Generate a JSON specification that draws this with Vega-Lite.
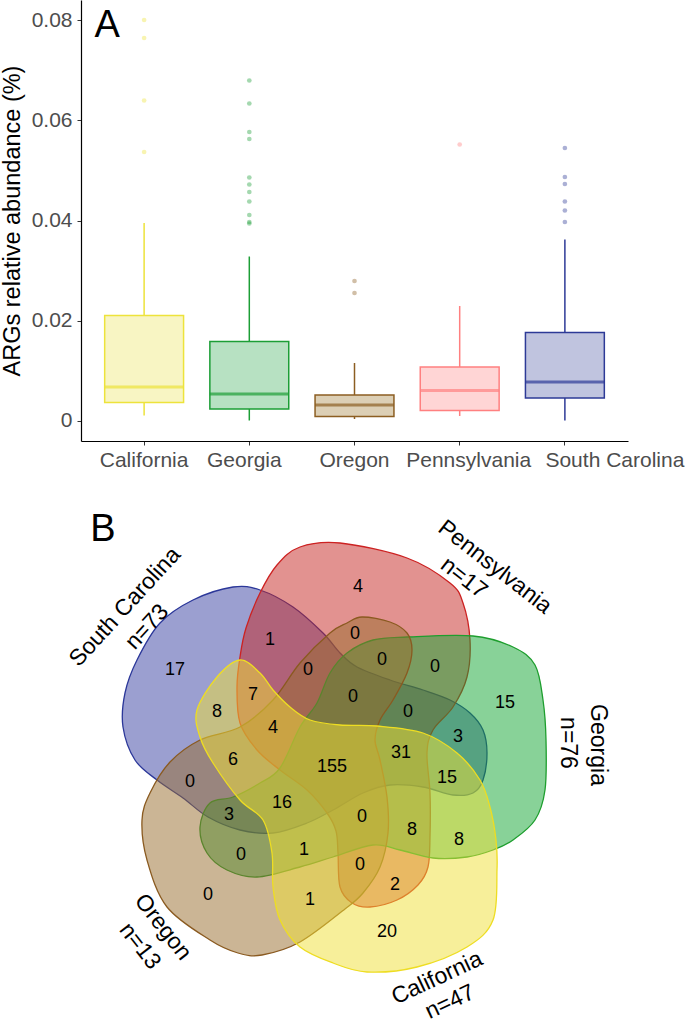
{
  "$schema": "https://vega.github.io/schema/vega-lite/v6.json",
  "padding": {"left": 0, "top": 0, "right": 0, "bottom": 0},
  "spacing": 10,
  "config": {"view": {"stroke": null}, "font": "Liberation Sans"},
  "datasets": {
    "boxes": [
      {"state": "California", "lower": 0.001, "q1": 0.0036, "median": 0.0067, "q3": 0.021, "upper": 0.0395},
      {"state": "Georgia", "lower": 0.0, "q1": 0.0023, "median": 0.0053, "q3": 0.0158, "upper": 0.0328},
      {"state": "Oregon", "lower": 0.0003, "q1": 0.0008, "median": 0.0031, "q3": 0.0051, "upper": 0.0115},
      {"state": "Pennsylvania", "lower": 0.0009, "q1": 0.002, "median": 0.006, "q3": 0.0107, "upper": 0.0229},
      {"state": "South Carolina", "lower": 0.0, "q1": 0.0045, "median": 0.0077, "q3": 0.0176, "upper": 0.0362}
    ],
    "outliers": [
      {"state": "California", "value": 0.0801}, {"state": "California", "value": 0.0765},
      {"state": "California", "value": 0.064}, {"state": "California", "value": 0.0537},
      {"state": "Georgia", "value": 0.068}, {"state": "Georgia", "value": 0.0634},
      {"state": "Georgia", "value": 0.0577}, {"state": "Georgia", "value": 0.0563},
      {"state": "Georgia", "value": 0.0486}, {"state": "Georgia", "value": 0.0472},
      {"state": "Georgia", "value": 0.0457}, {"state": "Georgia", "value": 0.0438},
      {"state": "Georgia", "value": 0.0411}, {"state": "Georgia", "value": 0.0397},
      {"state": "Georgia", "value": 0.0394},
      {"state": "Oregon", "value": 0.0279}, {"state": "Oregon", "value": 0.0255},
      {"state": "Pennsylvania", "value": 0.0552},
      {"state": "South Carolina", "value": 0.0545}, {"state": "South Carolina", "value": 0.0487},
      {"state": "South Carolina", "value": 0.0473}, {"state": "South Carolina", "value": 0.0438},
      {"state": "South Carolina", "value": 0.042}, {"state": "South Carolina", "value": 0.0397}
    ],
    "panelA": [{"label": "A", "state": "California", "value": 0.08}],
    "shapes": [
      {"set": "South Carolina", "i": 0, "x": 233, "y": 587},
      {"set": "South Carolina", "i": 1, "x": 260, "y": 590},
      {"set": "South Carolina", "i": 2, "x": 293, "y": 607},
      {"set": "South Carolina", "i": 3, "x": 323, "y": 633},
      {"set": "South Carolina", "i": 4, "x": 340, "y": 653},
      {"set": "South Carolina", "i": 5, "x": 357, "y": 667},
      {"set": "South Carolina", "i": 6, "x": 390, "y": 680},
      {"set": "South Carolina", "i": 7, "x": 423, "y": 690},
      {"set": "South Carolina", "i": 8, "x": 450, "y": 700},
      {"set": "South Carolina", "i": 9, "x": 470, "y": 713},
      {"set": "South Carolina", "i": 10, "x": 483, "y": 730},
      {"set": "South Carolina", "i": 11, "x": 487, "y": 753},
      {"set": "South Carolina", "i": 12, "x": 483, "y": 780},
      {"set": "South Carolina", "i": 13, "x": 473, "y": 793},
      {"set": "South Carolina", "i": 14, "x": 453, "y": 795},
      {"set": "South Carolina", "i": 15, "x": 423, "y": 787},
      {"set": "South Carolina", "i": 16, "x": 390, "y": 785},
      {"set": "South Carolina", "i": 17, "x": 363, "y": 793},
      {"set": "South Carolina", "i": 18, "x": 333, "y": 810},
      {"set": "South Carolina", "i": 19, "x": 307, "y": 823},
      {"set": "South Carolina", "i": 20, "x": 273, "y": 833},
      {"set": "South Carolina", "i": 21, "x": 240, "y": 830},
      {"set": "South Carolina", "i": 22, "x": 208, "y": 817},
      {"set": "South Carolina", "i": 23, "x": 183, "y": 798},
      {"set": "South Carolina", "i": 24, "x": 157, "y": 780},
      {"set": "South Carolina", "i": 25, "x": 135, "y": 760},
      {"set": "South Carolina", "i": 26, "x": 123, "y": 727},
      {"set": "South Carolina", "i": 27, "x": 125, "y": 693},
      {"set": "South Carolina", "i": 28, "x": 137, "y": 660},
      {"set": "South Carolina", "i": 29, "x": 160, "y": 623},
      {"set": "South Carolina", "i": 30, "x": 193, "y": 600},

      {"set": "Pennsylvania", "i": 0, "x": 300, "y": 547},
      {"set": "Pennsylvania", "i": 1, "x": 340, "y": 543},
      {"set": "Pennsylvania", "i": 2, "x": 407, "y": 558},
      {"set": "Pennsylvania", "i": 3, "x": 450, "y": 583},
      {"set": "Pennsylvania", "i": 4, "x": 463, "y": 603},
      {"set": "Pennsylvania", "i": 5, "x": 470, "y": 640},
      {"set": "Pennsylvania", "i": 6, "x": 467, "y": 677},
      {"set": "Pennsylvania", "i": 7, "x": 453, "y": 707},
      {"set": "Pennsylvania", "i": 8, "x": 433, "y": 730},
      {"set": "Pennsylvania", "i": 9, "x": 427, "y": 753},
      {"set": "Pennsylvania", "i": 10, "x": 430, "y": 793},
      {"set": "Pennsylvania", "i": 11, "x": 430, "y": 837},
      {"set": "Pennsylvania", "i": 12, "x": 428, "y": 867},
      {"set": "Pennsylvania", "i": 13, "x": 418, "y": 885},
      {"set": "Pennsylvania", "i": 14, "x": 397, "y": 900},
      {"set": "Pennsylvania", "i": 15, "x": 370, "y": 907},
      {"set": "Pennsylvania", "i": 16, "x": 352, "y": 903},
      {"set": "Pennsylvania", "i": 17, "x": 340, "y": 887},
      {"set": "Pennsylvania", "i": 18, "x": 338, "y": 853},
      {"set": "Pennsylvania", "i": 19, "x": 336, "y": 831},
      {"set": "Pennsylvania", "i": 20, "x": 327, "y": 813},
      {"set": "Pennsylvania", "i": 21, "x": 307, "y": 790},
      {"set": "Pennsylvania", "i": 22, "x": 280, "y": 770},
      {"set": "Pennsylvania", "i": 23, "x": 257, "y": 750},
      {"set": "Pennsylvania", "i": 24, "x": 240, "y": 723},
      {"set": "Pennsylvania", "i": 25, "x": 237, "y": 687},
      {"set": "Pennsylvania", "i": 26, "x": 240, "y": 657},
      {"set": "Pennsylvania", "i": 27, "x": 246, "y": 628},
      {"set": "Pennsylvania", "i": 28, "x": 260, "y": 593},
      {"set": "Pennsylvania", "i": 29, "x": 277, "y": 565},

      {"set": "Georgia", "i": 0, "x": 407, "y": 637},
      {"set": "Georgia", "i": 1, "x": 473, "y": 636},
      {"set": "Georgia", "i": 2, "x": 513, "y": 647},
      {"set": "Georgia", "i": 3, "x": 535, "y": 665},
      {"set": "Georgia", "i": 4, "x": 543, "y": 700},
      {"set": "Georgia", "i": 5, "x": 546, "y": 740},
      {"set": "Georgia", "i": 6, "x": 545, "y": 790},
      {"set": "Georgia", "i": 7, "x": 535, "y": 820},
      {"set": "Georgia", "i": 8, "x": 513, "y": 840},
      {"set": "Georgia", "i": 9, "x": 493, "y": 850},
      {"set": "Georgia", "i": 10, "x": 467, "y": 857},
      {"set": "Georgia", "i": 11, "x": 433, "y": 858},
      {"set": "Georgia", "i": 12, "x": 400, "y": 850},
      {"set": "Georgia", "i": 13, "x": 373, "y": 845},
      {"set": "Georgia", "i": 14, "x": 333, "y": 857},
      {"set": "Georgia", "i": 15, "x": 300, "y": 867},
      {"set": "Georgia", "i": 16, "x": 257, "y": 877},
      {"set": "Georgia", "i": 17, "x": 227, "y": 870},
      {"set": "Georgia", "i": 18, "x": 207, "y": 853},
      {"set": "Georgia", "i": 19, "x": 200, "y": 827},
      {"set": "Georgia", "i": 20, "x": 210, "y": 803},
      {"set": "Georgia", "i": 21, "x": 233, "y": 797},
      {"set": "Georgia", "i": 22, "x": 260, "y": 783},
      {"set": "Georgia", "i": 23, "x": 280, "y": 768},
      {"set": "Georgia", "i": 24, "x": 300, "y": 727},
      {"set": "Georgia", "i": 25, "x": 317, "y": 703},
      {"set": "Georgia", "i": 26, "x": 330, "y": 673},
      {"set": "Georgia", "i": 27, "x": 347, "y": 653},
      {"set": "Georgia", "i": 28, "x": 373, "y": 640},

      {"set": "Oregon", "i": 0, "x": 330, "y": 633},
      {"set": "Oregon", "i": 1, "x": 347, "y": 623},
      {"set": "Oregon", "i": 2, "x": 362, "y": 617},
      {"set": "Oregon", "i": 3, "x": 390, "y": 622},
      {"set": "Oregon", "i": 4, "x": 407, "y": 633},
      {"set": "Oregon", "i": 5, "x": 412, "y": 650},
      {"set": "Oregon", "i": 6, "x": 407, "y": 673},
      {"set": "Oregon", "i": 7, "x": 393, "y": 700},
      {"set": "Oregon", "i": 8, "x": 380, "y": 720},
      {"set": "Oregon", "i": 9, "x": 375, "y": 740},
      {"set": "Oregon", "i": 10, "x": 380, "y": 760},
      {"set": "Oregon", "i": 11, "x": 387, "y": 797},
      {"set": "Oregon", "i": 12, "x": 388, "y": 833},
      {"set": "Oregon", "i": 13, "x": 380, "y": 867},
      {"set": "Oregon", "i": 14, "x": 363, "y": 893},
      {"set": "Oregon", "i": 15, "x": 345, "y": 909},
      {"set": "Oregon", "i": 16, "x": 300, "y": 942},
      {"set": "Oregon", "i": 17, "x": 262, "y": 955},
      {"set": "Oregon", "i": 18, "x": 238, "y": 953},
      {"set": "Oregon", "i": 19, "x": 210, "y": 940},
      {"set": "Oregon", "i": 20, "x": 167, "y": 907},
      {"set": "Oregon", "i": 21, "x": 147, "y": 860},
      {"set": "Oregon", "i": 22, "x": 142, "y": 820},
      {"set": "Oregon", "i": 23, "x": 150, "y": 793},
      {"set": "Oregon", "i": 24, "x": 170, "y": 762},
      {"set": "Oregon", "i": 25, "x": 200, "y": 740},
      {"set": "Oregon", "i": 26, "x": 240, "y": 727},
      {"set": "Oregon", "i": 27, "x": 273, "y": 700},
      {"set": "Oregon", "i": 28, "x": 300, "y": 663},

      {"set": "California", "i": 0, "x": 240, "y": 660},
      {"set": "California", "i": 1, "x": 260, "y": 673},
      {"set": "California", "i": 2, "x": 273, "y": 690},
      {"set": "California", "i": 3, "x": 290, "y": 707},
      {"set": "California", "i": 4, "x": 310, "y": 720},
      {"set": "California", "i": 5, "x": 340, "y": 725},
      {"set": "California", "i": 6, "x": 377, "y": 726},
      {"set": "California", "i": 7, "x": 423, "y": 733},
      {"set": "California", "i": 8, "x": 457, "y": 753},
      {"set": "California", "i": 9, "x": 480, "y": 780},
      {"set": "California", "i": 10, "x": 490, "y": 807},
      {"set": "California", "i": 11, "x": 496, "y": 840},
      {"set": "California", "i": 12, "x": 497, "y": 870},
      {"set": "California", "i": 13, "x": 493, "y": 920},
      {"set": "California", "i": 14, "x": 467, "y": 947},
      {"set": "California", "i": 15, "x": 417, "y": 967},
      {"set": "California", "i": 16, "x": 367, "y": 972},
      {"set": "California", "i": 17, "x": 333, "y": 963},
      {"set": "California", "i": 18, "x": 300, "y": 947},
      {"set": "California", "i": 19, "x": 280, "y": 920},
      {"set": "California", "i": 20, "x": 273, "y": 887},
      {"set": "California", "i": 21, "x": 272, "y": 853},
      {"set": "California", "i": 22, "x": 263, "y": 820},
      {"set": "California", "i": 23, "x": 240, "y": 800},
      {"set": "California", "i": 24, "x": 213, "y": 763},
      {"set": "California", "i": 25, "x": 200, "y": 737},
      {"set": "California", "i": 26, "x": 197, "y": 710},
      {"set": "California", "i": 27, "x": 217, "y": 677}
    ],
    "regions": [
      {"n": "17", "x": 175, "y": 670}, {"n": "1", "x": 270, "y": 640},
      {"n": "8", "x": 217, "y": 712}, {"n": "7", "x": 253, "y": 695},
      {"n": "4", "x": 273, "y": 728}, {"n": "0", "x": 355, "y": 634},
      {"n": "0", "x": 308, "y": 670}, {"n": "0", "x": 382, "y": 660},
      {"n": "0", "x": 435, "y": 667}, {"n": "0", "x": 353, "y": 697},
      {"n": "0", "x": 408, "y": 712}, {"n": "3", "x": 458, "y": 737},
      {"n": "31", "x": 401, "y": 753}, {"n": "155", "x": 332, "y": 767},
      {"n": "15", "x": 447, "y": 778}, {"n": "6", "x": 233, "y": 760},
      {"n": "16", "x": 282, "y": 803}, {"n": "3", "x": 229, "y": 815},
      {"n": "0", "x": 362, "y": 817}, {"n": "8", "x": 412, "y": 830},
      {"n": "8", "x": 459, "y": 840}, {"n": "0", "x": 241, "y": 855},
      {"n": "1", "x": 304, "y": 850}, {"n": "0", "x": 360, "y": 865},
      {"n": "2", "x": 395, "y": 885}, {"n": "0", "x": 208, "y": 895},
      {"n": "1", "x": 310, "y": 900}, {"n": "4", "x": 358, "y": 587},
      {"n": "15", "x": 505, "y": 703}, {"n": "0", "x": 190, "y": 782},
      {"n": "20", "x": 387, "y": 932}
    ],
    "setlabels": [
      {"set": "South Carolina", "text": "South Carolina", "x": 125, "y": 607},
      {"set": "South Carolina", "text": "n=73", "x": 147, "y": 627},
      {"set": "Pennsylvania", "text": "Pennsylvania", "x": 495, "y": 567},
      {"set": "Pennsylvania", "text": "n=17", "x": 464, "y": 578},
      {"set": "Georgia", "text": "Georgia", "x": 598, "y": 745},
      {"set": "Georgia", "text": "n=76", "x": 568, "y": 743},
      {"set": "Oregon", "text": "Oregon", "x": 163, "y": 927},
      {"set": "Oregon", "text": "n=13", "x": 140, "y": 946},
      {"set": "California", "text": "California", "x": 437, "y": 978},
      {"set": "California", "text": "n=47", "x": 450, "y": 1002}
    ],
    "panelB": [{"label": "B", "x": 103, "y": 530}]
  },
  "vconcat": [
    {
      "width": 547,
      "height": 441,
      "encoding": {
        "x": {
          "field": "state", "type": "nominal",
          "scale": {"domain": ["California", "Georgia", "Oregon", "Pennsylvania", "South Carolina"], "paddingInner": 0.25, "paddingOuter": 0.225},
          "axis": {
            "title": null, "labelAngle": 0, "labelFontSize": 21, "labelColor": "#4D4D4D",
            "tickColor": "#333333", "domainColor": "#000000", "domainWidth": 1.2, "tickSize": 4, "labelPadding": 4,
            "labelOffset": {"condition": [
              {"test": "datum.value === 'South Carolina'", "value": 50},
              {"test": "datum.value === 'Pennsylvania'", "value": 9},
              {"test": "datum.value === 'Georgia'", "value": -5}
            ], "value": 0}
          }
        }
      },
      "layer": [
        {
          "data": {"name": "boxes"},
          "mark": {"type": "rule", "strokeWidth": 1.5},
          "encoding": {
            "y": {"field": "lower", "type": "quantitative",
              "scale": {"domain": [-0.0041, 0.0841], "nice": false, "zero": false},
              "axis": {"title": "ARGs relative abundance (%)", "titleFontSize": 23.5, "titleFontWeight": "normal", "titleColor": "#000000", "titlePadding": 7, "labelFontSize": 21, "labelColor": "#4D4D4D", "values": [0, 0.02, 0.04, 0.06, 0.08], "format": "~g", "grid": false, "tickSize": 4, "labelPadding": 5, "tickColor": "#333333", "domainColor": "#000000", "domainWidth": 1.2}},
            "y2": {"field": "upper"},
            "stroke": {"field": "state", "type": "nominal", "legend": null,
              "scale": {"domain": ["California", "Georgia", "Oregon", "Pennsylvania", "South Carolina"], "range": ["#EDE33B", "#1C9E36", "#8C5E22", "#FF8080", "#2D3A97"]}}
          }
        },
        {
          "data": {"name": "boxes"},
          "mark": {"type": "rect", "strokeWidth": 1.5},
          "encoding": {
            "y": {"field": "q1", "type": "quantitative"},
            "y2": {"field": "q3"},
            "stroke": {"field": "state", "type": "nominal", "legend": null},
            "fill": {"field": "state", "type": "nominal", "legend": null,
              "scale": {"domain": ["California", "Georgia", "Oregon", "Pennsylvania", "South Carolina"], "range": ["#F8F5C3", "#B7E1C2", "#DCCFB5", "#FFD5D5", "#C0C4DF"]}}
          }
        },
        {
          "data": {"name": "boxes"},
          "mark": {"type": "tick", "size": 79, "thickness": 2.8, "orient": "horizontal"},
          "encoding": {
            "y": {"field": "median", "type": "quantitative"},
            "color": {"field": "state", "type": "nominal", "legend": null,
              "scale": {"domain": ["California", "Georgia", "Oregon", "Pennsylvania", "South Carolina"], "range": ["#EDE33B", "#1C9E36", "#8C5E22", "#FF8080", "#2D3A97"]}}
          }
        },
        {
          "data": {"name": "outliers"},
          "mark": {"type": "circle", "size": 22, "opacity": 0.4},
          "encoding": {
            "y": {"field": "value", "type": "quantitative"},
            "color": {"field": "state", "type": "nominal", "legend": null}
          }
        },
        {
          "data": {"name": "panelA"},
          "mark": {"type": "text", "fontSize": 38, "dx": -37, "dy": 5, "align": "center", "baseline": "middle", "color": "#000000"},
          "encoding": {
            "y": {"field": "value", "type": "quantitative"},
            "text": {"field": "label"}
          }
        }
      ]
    },
    {
      "width": 604,
      "height": 549,
      "encoding": {
        "x": {"field": "x", "type": "quantitative", "scale": {"domain": [81, 685], "nice": false, "zero": false}, "axis": null},
        "y": {"field": "y", "type": "quantitative", "scale": {"domain": [480, 1029], "nice": false, "zero": false, "reverse": true}, "axis": null}
      },
      "layer": [
        {
          "data": {"name": "shapes"},
          "transform": [{"filter": "datum.set == 'South Carolina'"}],
          "mark": {"type": "line", "interpolate": "cardinal-closed", "fill": "#373FA1", "fillOpacity": 0.5, "stroke": "#2B3799", "strokeWidth": 1.3},
          "encoding": {"order": {"field": "i", "type": "quantitative"}}
        },
        {
          "data": {"name": "shapes"},
          "transform": [{"filter": "datum.set == 'Pennsylvania'"}],
          "mark": {"type": "line", "interpolate": "cardinal-closed", "fill": "#C52521", "fillOpacity": 0.5, "stroke": "#CC2222", "strokeWidth": 1.3},
          "encoding": {"order": {"field": "i", "type": "quantitative"}}
        },
        {
          "data": {"name": "shapes"},
          "transform": [{"filter": "datum.set == 'Georgia'"}],
          "mark": {"type": "line", "interpolate": "cardinal-closed", "fill": "#11A531", "fillOpacity": 0.5, "stroke": "#1E9E2E", "strokeWidth": 1.3},
          "encoding": {"order": {"field": "i", "type": "quantitative"}}
        },
        {
          "data": {"name": "shapes"},
          "transform": [{"filter": "datum.set == 'Oregon'"}],
          "mark": {"type": "line", "interpolate": "cardinal-closed", "fill": "#976B2B", "fillOpacity": 0.5, "stroke": "#8A5A20", "strokeWidth": 1.3},
          "encoding": {"order": {"field": "i", "type": "quantitative"}}
        },
        {
          "data": {"name": "shapes"},
          "transform": [{"filter": "datum.set == 'California'"}],
          "mark": {"type": "line", "interpolate": "cardinal-closed", "fill": "#EFDF35", "fillOpacity": 0.5, "stroke": "#EEDD22", "strokeWidth": 1.3},
          "encoding": {"order": {"field": "i", "type": "quantitative"}}
        },
        {
          "data": {"name": "regions"},
          "mark": {"type": "text", "fontSize": 18, "align": "center", "baseline": "middle", "color": "#000000"},
          "encoding": {"text": {"field": "n"}}
        },
        {
          "data": {"name": "setlabels"},
          "transform": [{"filter": "datum.set == 'South Carolina'"}],
          "mark": {"type": "text", "fontSize": 23, "angle": -47.5, "align": "center", "baseline": "middle", "color": "#000000"},
          "encoding": {"text": {"field": "text"}}
        },
        {
          "data": {"name": "setlabels"},
          "transform": [{"filter": "datum.set == 'Pennsylvania'"}],
          "mark": {"type": "text", "fontSize": 23, "angle": 38, "align": "center", "baseline": "middle", "color": "#000000"},
          "encoding": {"text": {"field": "text"}}
        },
        {
          "data": {"name": "setlabels"},
          "transform": [{"filter": "datum.set == 'Georgia'"}],
          "mark": {"type": "text", "fontSize": 23, "angle": 90, "align": "center", "baseline": "middle", "color": "#000000"},
          "encoding": {"text": {"field": "text"}}
        },
        {
          "data": {"name": "setlabels"},
          "transform": [{"filter": "datum.set == 'Oregon'"}],
          "mark": {"type": "text", "fontSize": 23, "angle": 52, "align": "center", "baseline": "middle", "color": "#000000"},
          "encoding": {"text": {"field": "text"}}
        },
        {
          "data": {"name": "setlabels"},
          "transform": [{"filter": "datum.set == 'California'"}],
          "mark": {"type": "text", "fontSize": 23, "angle": -25, "align": "center", "baseline": "middle", "color": "#000000"},
          "encoding": {"text": {"field": "text"}}
        },
        {
          "data": {"name": "panelB"},
          "mark": {"type": "text", "fontSize": 38, "align": "center", "baseline": "middle", "color": "#000000"},
          "encoding": {"text": {"field": "label"}}
        }
      ]
    }
  ]
}
